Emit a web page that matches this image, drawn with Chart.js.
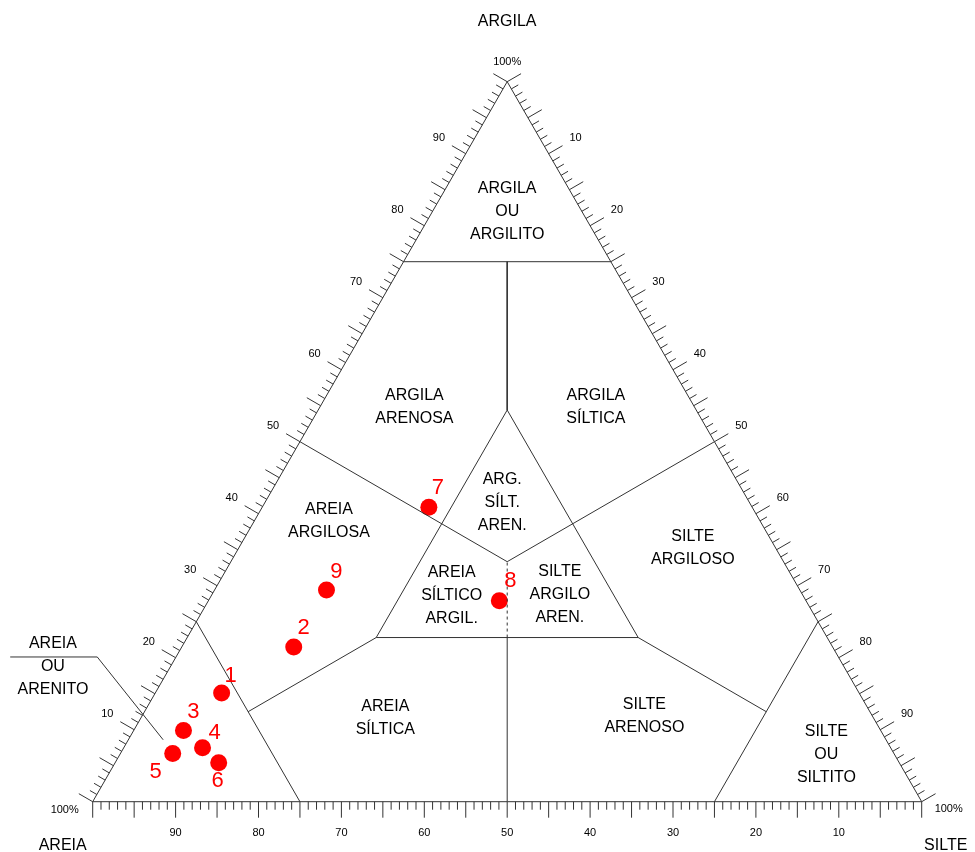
<!DOCTYPE html>
<html>
<head>
<meta charset="utf-8">
<script src="https://cdn.jsdelivr.net/npm/chart.js@4/dist/chart.umd.min.js"></script>
<style>
  html, body { margin: 0; padding: 0; background: #fff; }
  #wrap { width: 975px; height: 852px; position: relative; }
</style>
</head>
<body>
<div id="wrap"><canvas id="chart"></canvas></div>
<script>
// Sample composition (%)
const samples = ['1', '2', '3', '4', '5', '6', '7', '8', '9'];
const areia  = [76.9, 65.0, 84.1, 83.0, 87.0, 82.1, 39.0, 37.0, 57.1];
const silte  = [ 8.0, 13.5,  6.0,  9.5,  6.3, 12.5, 20.1, 35.1, 13.5];
const argila = [15.1, 21.5,  9.9,  7.5,  6.7,  5.4, 40.9, 27.9, 29.4];

// Axis tick labels
const tickLabels = ['10', '20', '30', '40', '50', '60', '70', '80', '90'];

// Classification field names (one entry per text line)
const regionNames = [
  ['ARGILA', 'OU', 'ARGILITO'],
  ['ARGILA', 'ARENOSA'],
  ['ARGILA', 'SÍLTICA'],
  ['ARG.', 'SÍLT.', 'AREN.'],
  ['AREIA', 'ARGILOSA'],
  ['AREIA', 'SÍLTICO', 'ARGIL.'],
  ['SILTE', 'ARGILO', 'AREN.'],
  ['SILTE', 'ARGILOSO'],
  ['AREIA', 'SÍLTICA'],
  ['SILTE', 'ARENOSO'],
  ['SILTE', 'OU', 'SILTITO'],
  ['AREIA', 'OU', 'ARENITO']
];
// where each name sits, as [areia, silte, argila]
const regionPos = [
  [9.0, 9.0, 82.0], [33.8, 11.4, 54.8], [11.9, 33.3, 54.8], [29.8, 28.6, 41.6],
  [52.0, 9.0, 39.0], [42.4, 29.0, 28.6], [29.3, 42.0, 28.7], [10.0, 54.8, 35.2],
  [58.9, 29.5, 11.6], [27.5, 60.6, 11.9], [8.2, 85.2, 6.6], [95.4, -14.2, 18.8]
];
const labelOffsets = [[9, -17], [10, -19], [10, -18], [12, -15], [-17, 18], [-1, 18], [9, -19], [11, -20], [10, -18]];

// boundary at which the central triangle starts
const inner = 22.8;
const FONT = '"Liberation Sans", Arial, sans-serif';
const LINE = '#333';

// ternary (areia, silte, argila) -> chart value coords
function tern(s, t, c) {
  return { x: t + c / 2, y: c };
}

function seg(points, extra) {
  return Object.assign({
    data: points.map(p => tern(p[0], p[1], p[2])),
    showLine: true,
    borderColor: LINE,
    borderWidth: 1,
    pointRadius: 0,
    fill: false,
    clip: false
  }, extra || {});
}

const third = 100 / 3;
const datasets = [
  // outline
  seg([[100, 0, 0], [0, 100, 0], [0, 0, 100], [100, 0, 0]]),
  // corner fields
  seg([[25, 0, 75], [0, 25, 75]]),
  seg([[75, 25, 0], [75, 0, 25]]),
  seg([[25, 75, 0], [0, 75, 25]]),
  // central triangle
  seg([[100 - 2 * inner, inner, inner], [inner, 100 - 2 * inner, inner], [inner, inner, 100 - 2 * inner], [100 - 2 * inner, inner, inner]]),
  // spokes
  seg([[12.5, 12.5, 75], [inner, inner, 100 - 2 * inner]]),
  seg([[75, 12.5, 12.5], [100 - 2 * inner, inner, inner]]),
  seg([[12.5, 75, 12.5], [inner, 100 - 2 * inner, inner]]),
  seg([[50, 0, 50], [third, third, third]]),
  seg([[0, 50, 50], [third, third, third]]),
  seg([[50, 50, 0], [(100 - inner) / 2, (100 - inner) / 2, inner]]),
  seg([[(100 - inner) / 2, (100 - inner) / 2, inner], [third, third, third]], { borderDash: [3, 3] }),
  // callout for AREIA OU ARENITO (drawn from the tip back to the underline)
  seg([[87.0, 4.2, 8.6], [89.4, -9.5, 20.1], [110.0, -20.0, 20.1]]),
  // samples
  {
    data: samples.map((n, i) => tern(areia[i], silte[i], argila[i])),
    showLine: false,
    pointRadius: 8.5,
    pointHoverRadius: 8.5,
    pointBackgroundColor: '#ff0000',
    pointBorderColor: '#ff0000',
    pointBorderWidth: 0,
    clip: false
  }
];

const ternaryDecor = {
  id: 'ternaryDecor',
  afterDatasetsDraw(chart) {
    const ctx = chart.ctx;
    const xs = chart.scales.x, ys = chart.scales.y;
    const px = (s, t, c) => [xs.getPixelForValue(t + c / 2), ys.getPixelForValue(c)];
    const n = Math.sqrt(3) / 2;

    ctx.save();
    ctx.strokeStyle = LINE;
    ctx.lineWidth = 1;
    ctx.fillStyle = '#000';
    ctx.textAlign = 'center';
    ctx.textBaseline = 'middle';

    const edges = [
      { at: k => px(k, 100 - k, 0), nx: 0, ny: 1 },       // areia, bottom
      { at: k => px(100 - k, 0, k), nx: -n, ny: -0.5 },  // argila, left
      { at: k => px(0, k, 100 - k), nx: n, ny: -0.5 }    // silte, right
    ];

    edges.forEach(e => {
      for (let k = 0; k <= 100; k++) {
        const [x, y] = e.at(k);
        const len = k % 5 === 0 ? 16 : 8;
        ctx.beginPath();
        ctx.moveTo(x, y);
        ctx.lineTo(x + e.nx * len, y + e.ny * len);
        ctx.stroke();
      }
      ctx.font = '11px ' + FONT;
      tickLabels.forEach(lbl => {
        const [x, y] = e.at(parseFloat(lbl));
        ctx.fillText(lbl, x + e.nx * 31, y + e.ny * 31);
      });
    });

    // corners
    ctx.font = '11px ' + FONT;
    let [x, y] = px(0, 0, 100);
    ctx.fillText('100%', x, y - 20);
    [x, y] = px(100, 0, 0);
    ctx.fillText('100%', x - 28, y + 8);
    [x, y] = px(0, 100, 0);
    ctx.fillText('100%', x + 27, y + 7);

    // axis titles
    ctx.font = '16px ' + FONT;
    [x, y] = px(0, 0, 100);
    ctx.fillText('ARGILA', x, y - 60);
    [x, y] = px(100, 0, 0);
    ctx.fillText('AREIA', x - 30, y + 44);
    [x, y] = px(0, 100, 0);
    ctx.fillText('SILTE', x + 24, y + 44);

    // field names
    ctx.font = '16px ' + FONT;
    regionNames.forEach((lines, i) => {
      const [cx, cy] = px(...regionPos[i]);
      const top = cy - (lines.length - 1) * 23 / 2;
      lines.forEach((ln, j) => ctx.fillText(ln, cx, top + j * 23));
    });

    // sample numbers
    ctx.font = '22px ' + FONT;
    ctx.fillStyle = '#ff0000';
    samples.forEach((s, i) => {
      const [sx, sy] = px(areia[i], silte[i], argila[i]);
      ctx.fillText(s, sx + labelOffsets[i][0], sy + labelOffsets[i][1]);
    });
    ctx.restore();
  }
};

new Chart(document.getElementById('chart').getContext('2d'), {
  type: 'scatter',
  data: { datasets },
  options: {
    responsive: true,
    maintainAspectRatio: false,
    animation: false,
    layout: { padding: { left: 92.7, right: 53.3, top: 81.7, bottom: 50.3 } },
    scales: {
      x: { type: 'linear', min: 0, max: 100, display: false },
      y: { type: 'linear', min: 0, max: 100, display: false }
    },
    plugins: {
      legend: { display: false },
      tooltip: { enabled: false }
    }
  },
  plugins: [ternaryDecor]
});
</script>
</body>
</html>
